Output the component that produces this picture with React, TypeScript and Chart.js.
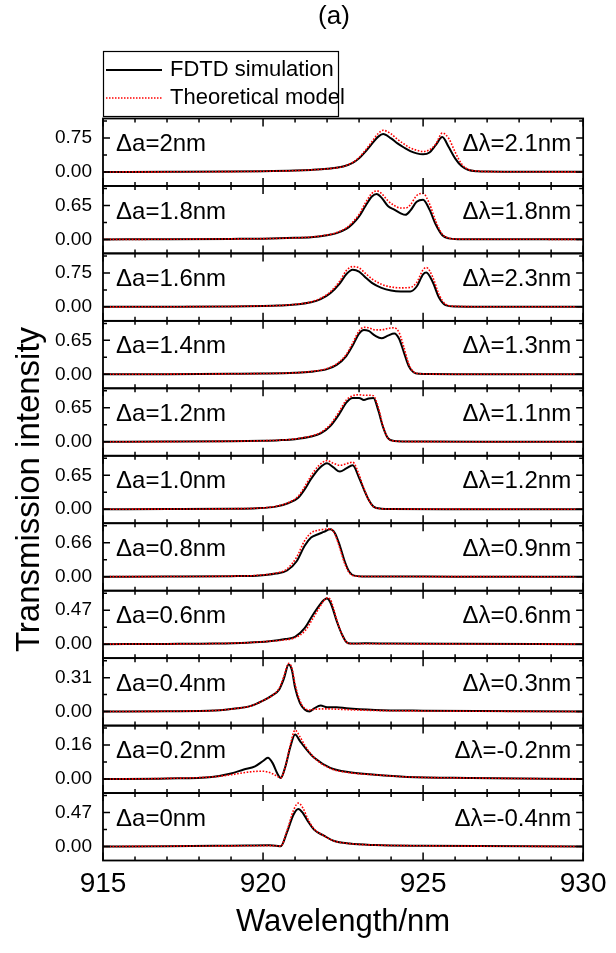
import React, { useEffect, useRef } from 'react';
import { Chart, registerables } from 'chart.js';

Chart.register(...registerables);

const FONT = '"Liberation Sans", Arial, Helvetica, sans-serif';

// ---------- data ----------
const wavelengthTicks = [915, 920, 925, 930];
const peakTicks = [0.75, 0.65, 0.75, 0.65, 0.65, 0.65, 0.66, 0.47, 0.31, 0.16, 0.47];
const latticeLabels = ['Δa=2nm', 'Δa=1.8nm', 'Δa=1.6nm', 'Δa=1.4nm', 'Δa=1.2nm', 'Δa=1.0nm', 'Δa=0.8nm', 'Δa=0.6nm', 'Δa=0.4nm', 'Δa=0.2nm', 'Δa=0nm'];
const shiftLabels = ['Δλ=2.1nm', 'Δλ=1.8nm', 'Δλ=2.3nm', 'Δλ=1.3nm', 'Δλ=1.1nm', 'Δλ=1.2nm', 'Δλ=0.9nm', 'Δλ=0.6nm', 'Δλ=0.3nm', 'Δλ=-0.2nm', 'Δλ=-0.4nm'];
const seriesNames = ['FDTD simulation', 'Theoretical model'];

const wl0 = [915, 917, 919, 920, 921, 921.5, 922, 922.5, 922.8, 923.0, 923.2, 923.4, 923.6, 923.75, 924.0, 924.2, 924.4, 924.6, 924.8, 925.0, 925.2, 925.4, 925.6, 925.8, 926.0, 926.2, 926.4, 926.7, 927, 928, 930];
const fdtd0 = [0, 0.003, 0.008, 0.015, 0.03, 0.045, 0.07, 0.12, 0.2, 0.3, 0.45, 0.62, 0.78, 0.84, 0.74, 0.63, 0.54, 0.46, 0.41, 0.39, 0.43, 0.6, 0.77, 0.55, 0.3, 0.13, 0.05, 0.015, 0.008, 0.004, 0.002];
const theory0 = [0, 0.003, 0.008, 0.015, 0.03, 0.045, 0.07, 0.12, 0.21, 0.32, 0.48, 0.67, 0.85, 0.92, 0.84, 0.72, 0.62, 0.53, 0.48, 0.45, 0.49, 0.62, 0.86, 0.74, 0.44, 0.18, 0.06, 0.02, 0.008, 0.004, 0.002];

const wl1 = [915, 917, 919, 920, 921, 921.5, 922, 922.3, 922.6, 922.8, 923.0, 923.2, 923.4, 923.55, 923.7, 923.9, 924.1, 924.3, 924.45, 924.6, 924.8, 925.0, 925.2, 925.4, 925.6, 925.8, 926.1, 927, 930];
const fdtd1 = [0, 0.003, 0.01, 0.015, 0.03, 0.04, 0.08, 0.12, 0.2, 0.3, 0.44, 0.64, 0.82, 0.87, 0.8, 0.64, 0.57, 0.5, 0.47, 0.55, 0.72, 0.76, 0.57, 0.28, 0.08, 0.02, 0.005, 0.003, 0.001];
const theory1 = [0, 0.003, 0.01, 0.015, 0.03, 0.045, 0.085, 0.13, 0.22, 0.33, 0.48, 0.7, 0.88, 0.93, 0.88, 0.74, 0.65, 0.6, 0.6, 0.66, 0.84, 0.88, 0.68, 0.34, 0.1, 0.025, 0.006, 0.003, 0.001];

const wl2 = [915, 917, 919, 920, 920.5, 921, 921.5, 921.8, 922.1, 922.4, 922.6, 922.8, 923.0, 923.2, 923.4, 923.7, 924.0, 924.3, 924.6, 924.8, 925.0, 925.1, 925.3, 925.5, 925.7, 926.0, 927, 930];
const fdtd2 = [0, 0.003, 0.01, 0.02, 0.03, 0.05, 0.1, 0.17, 0.3, 0.52, 0.72, 0.82, 0.78, 0.65, 0.53, 0.42, 0.36, 0.34, 0.34, 0.45, 0.72, 0.76, 0.55, 0.2, 0.04, 0.01, 0.003, 0.001];
const theory2 = [0, 0.003, 0.01, 0.02, 0.03, 0.055, 0.11, 0.19, 0.33, 0.57, 0.8, 0.89, 0.86, 0.74, 0.62, 0.5, 0.44, 0.42, 0.43, 0.54, 0.82, 0.87, 0.66, 0.27, 0.06, 0.012, 0.003, 0.001];

const wl3 = [915, 917, 919, 920, 921, 921.5, 922, 922.3, 922.6, 922.8, 923.0, 923.15, 923.3, 923.5, 923.7, 923.9, 924.1, 924.25, 924.4, 924.55, 924.7, 924.9, 925.2, 926, 930];
const fdtd3 = [0, 0.003, 0.01, 0.015, 0.03, 0.05, 0.1, 0.18, 0.35, 0.55, 0.78, 0.85, 0.83, 0.74, 0.69, 0.74, 0.78, 0.68, 0.42, 0.16, 0.04, 0.01, 0.005, 0.002, 0.001];
const theory3 = [0, 0.003, 0.01, 0.015, 0.03, 0.055, 0.11, 0.2, 0.38, 0.6, 0.83, 0.9, 0.89, 0.85, 0.85, 0.88, 0.89, 0.8, 0.52, 0.2, 0.05, 0.012, 0.005, 0.002, 0.001];

const wl4 = [915, 917, 919, 920, 920.5, 921, 921.5, 921.8, 922.1, 922.4, 922.6, 922.8, 923.0, 923.15, 923.3, 923.45, 923.6, 923.75, 923.9, 924.1, 924.4, 925, 927, 930];
const fdtd4 = [0, 0.003, 0.01, 0.02, 0.03, 0.05, 0.1, 0.16, 0.3, 0.55, 0.75, 0.84, 0.84, 0.8, 0.83, 0.84, 0.6, 0.28, 0.07, 0.015, 0.005, 0.003, 0.001, 0];
const theory4 = [0, 0.003, 0.01, 0.02, 0.03, 0.055, 0.11, 0.18, 0.33, 0.6, 0.8, 0.88, 0.9, 0.89, 0.89, 0.88, 0.66, 0.3, 0.07, 0.015, 0.005, 0.003, 0.001, 0];

const wl5 = [915, 917, 919, 919.8, 920.4, 920.8, 921.1, 921.3, 921.5, 921.75, 922.0, 922.2, 922.4, 922.6, 922.8, 923.0, 923.15, 923.3, 923.45, 923.7, 924, 926, 930];
const fdtd5 = [0, 0.003, 0.01, 0.02, 0.05, 0.12, 0.22, 0.38, 0.58, 0.78, 0.88, 0.8, 0.72, 0.78, 0.84, 0.6, 0.38, 0.18, 0.05, 0.01, 0.004, 0.002, 0];
const theory5 = [0, 0.003, 0.01, 0.02, 0.055, 0.13, 0.25, 0.43, 0.64, 0.84, 0.93, 0.88, 0.84, 0.87, 0.9, 0.66, 0.4, 0.18, 0.05, 0.01, 0.004, 0.002, 0];

const wl6 = [915, 917, 919, 919.8, 920.4, 920.75, 921.05, 921.3, 921.5, 921.7, 921.9, 922.1, 922.25, 922.4, 922.55, 922.7, 922.85, 923.1, 924, 926, 930];
const fdtd6 = [0, 0.003, 0.01, 0.02, 0.06, 0.12, 0.3, 0.6, 0.76, 0.82, 0.87, 0.92, 0.84, 0.6, 0.3, 0.09, 0.02, 0.005, 0.003, 0.001, 0];
const theory6 = [0, 0.003, 0.01, 0.025, 0.07, 0.15, 0.38, 0.7, 0.85, 0.9, 0.92, 0.93, 0.82, 0.55, 0.26, 0.07, 0.015, 0.005, 0.003, 0.001, 0];

const wl7 = [915, 917, 918.5, 919.5, 920.2, 920.7, 921.0, 921.3, 921.55, 921.75, 921.9, 922.0, 922.1, 922.2, 922.3, 922.45, 922.6, 922.75, 923.2, 924, 926, 930];
const fdtd7 = [0, 0.003, 0.008, 0.02, 0.04, 0.07, 0.1, 0.22, 0.4, 0.53, 0.61, 0.63, 0.58, 0.46, 0.32, 0.15, 0.03, 0.008, 0.012, 0.008, 0.004, 0];
const theory7 = [0, 0.003, 0.008, 0.02, 0.04, 0.06, 0.09, 0.18, 0.35, 0.5, 0.6, 0.64, 0.62, 0.5, 0.34, 0.15, 0.03, 0.006, 0.006, 0.005, 0.003, 0];

const wl8 = [915, 917, 918.5, 919.2, 919.6, 920.0, 920.3, 920.5, 920.65, 920.8, 920.9, 921.0, 921.15, 921.3, 921.45, 921.6, 921.8, 922.0, 922.3, 922.6, 923.5, 925, 930];
const fdtd8 = [0, 0.003, 0.01, 0.03, 0.05, 0.1, 0.15, 0.2, 0.3, 0.43, 0.38, 0.22, 0.08, 0.02, 0.002, 0.03, 0.055, 0.04, 0.04, 0.03, 0.015, 0.008, 0];
const theory8 = [0, 0.003, 0.01, 0.03, 0.05, 0.1, 0.15, 0.21, 0.32, 0.44, 0.4, 0.25, 0.1, 0.03, 0.015, 0.02, 0.025, 0.025, 0.022, 0.018, 0.01, 0.006, 0];

const wl9 = [915, 917, 918.4, 919.0, 919.4, 919.75, 920.0, 920.15, 920.3, 920.45, 920.55, 920.7, 920.85, 921.0, 921.15, 921.3, 921.6, 922.1, 922.7, 923.5, 924.5, 926.5, 930];
const fdtd9 = [0, 0.003, 0.01, 0.026, 0.045, 0.06, 0.085, 0.1, 0.075, 0.025, 0.005, 0.06, 0.15, 0.21, 0.18, 0.15, 0.1, 0.053, 0.032, 0.02, 0.01, 0.005, 0];
const theory9 = [0, 0.003, 0.01, 0.02, 0.03, 0.036, 0.037, 0.033, 0.025, 0.012, 0.006, 0.06, 0.16, 0.23, 0.2, 0.16, 0.1, 0.05, 0.03, 0.02, 0.01, 0.005, 0];

const wl10 = [915, 917, 918.5, 919.5, 920.2, 920.4, 920.55, 920.75, 920.95, 921.1, 921.25, 921.4, 921.6, 921.9, 922.2, 922.7, 923.5, 925, 930];
const fdtd10 = [0, 0.005, 0.01, 0.014, 0.016, 0.012, 0.003, 0.2, 0.44, 0.52, 0.46, 0.35, 0.23, 0.15, 0.08, 0.04, 0.02, 0.01, 0];
const theory10 = [0, 0.004, 0.008, 0.01, 0.012, 0.01, 0.004, 0.22, 0.5, 0.6, 0.53, 0.38, 0.24, 0.15, 0.08, 0.04, 0.02, 0.01, 0];

const wavelengths = [wl0, wl1, wl2, wl3, wl4, wl5, wl6, wl7, wl8, wl9, wl10];
const fdtdSeries = [fdtd0, fdtd1, fdtd2, fdtd3, fdtd4, fdtd5, fdtd6, fdtd7, fdtd8, fdtd9, fdtd10];
const theorySeries = [theory0, theory1, theory2, theory3, theory4, theory5, theory6, theory7, theory8, theory9, theory10];

// ---------- style ----------
const BLACK = '#000000';
const RED = '#ff0000';

const decorPlugin = {
  id: 'decor',
  afterDraw(chart: any) {
    const { ctx, chartArea: area } = chart;
    const xs = chart.scales.x;
    ctx.save();
    ctx.strokeStyle = BLACK;
    ctx.fillStyle = BLACK;
    for (let i = 0; i < peakTicks.length; i++) {
      const ys = chart.scales['y' + i];
      const top = ys.top;
      const bottom = ys.bottom;
      ctx.lineWidth = 1.8;
      ctx.strokeRect(area.left, top, area.right - area.left, bottom - top);
      ctx.lineWidth = 1.5;
      ctx.beginPath();
      for (let w = xs.min; w <= xs.max; w += 1) {
        const px = xs.getPixelForValue(w);
        const len = w % 5 === 0 ? 8 : 4;
        ctx.moveTo(px, bottom);
        ctx.lineTo(px, bottom - len);
        ctx.moveTo(px, top);
        ctx.lineTo(px, top + len);
      }
      const T = peakTicks[i];
      for (const k of [0, 0.5, 1, 1.5]) {
        const v = k * T;
        if (v > ys.max) continue;
        const py = ys.getPixelForValue(v);
        const len = k % 1 === 0 ? 7 : 4;
        ctx.moveTo(area.left, py);
        ctx.lineTo(area.left + len, py);
        ctx.moveTo(area.right, py);
        ctx.lineTo(area.right - len, py);
      }
      ctx.stroke();
      // y tick labels
      ctx.font = `19px ${FONT}`;
      ctx.textBaseline = 'middle';
      ctx.textAlign = 'right';
      for (const v of [0, T]) {
        ctx.fillText(v.toFixed(2), area.left - 11, ys.getPixelForValue(v));
      }
      // panel annotations
      ctx.font = `24px ${FONT}`;
      ctx.textAlign = 'left';
      ctx.fillText(latticeLabels[i], area.left + 13, top + 26);
      ctx.textAlign = 'right';
      ctx.fillText(shiftLabels[i], area.right - 12, top + 26);
    }
    // titles
    ctx.textAlign = 'center';
    ctx.textBaseline = 'middle';
    ctx.font = `31px ${FONT}`;
    ctx.fillText('Wavelength/nm', (area.left + area.right) / 2, 922);
    ctx.save();
    ctx.font = `33px ${FONT}`;
    ctx.translate(30, (area.top + area.bottom) / 2);
    ctx.rotate(-Math.PI / 2);
    ctx.fillText('Transmission intensity', 0, 0);
    ctx.restore();
    ctx.font = `26px ${FONT}`;
    ctx.fillText('(a)', 334, 17);
    // legend
    const lx = area.left;
    ctx.lineWidth = 1.2;
    ctx.strokeStyle = BLACK;
    ctx.strokeRect(lx + 0.5, 51.5, 235, 65);
    const fd = chart.data.datasets[1];
    const th = chart.data.datasets[0];
    ctx.beginPath();
    ctx.strokeStyle = fd.borderColor;
    ctx.lineWidth = 2;
    ctx.moveTo(lx + 3, 70);
    ctx.lineTo(lx + 59, 70);
    ctx.stroke();
    ctx.beginPath();
    ctx.strokeStyle = th.borderColor;
    ctx.lineWidth = 1.5;
    ctx.setLineDash([1.5, 1.5]);
    ctx.moveTo(lx + 3, 98);
    ctx.lineTo(lx + 59, 98);
    ctx.stroke();
    ctx.setLineDash([]);
    ctx.font = `22px ${FONT}`;
    ctx.textAlign = 'left';
    ctx.fillStyle = BLACK;
    ctx.fillText(seriesNames[0], lx + 67, 70);
    ctx.fillText(seriesNames[1], lx + 67, 98);
    ctx.restore();
  },
};

export default function App() {
  const ref = useRef<HTMLCanvasElement | null>(null);
  useEffect(() => {
    if (!ref.current) return;
    const datasets: any[] = [];
    const scales: any = {
      x: {
        type: 'linear',
        position: 'bottom',
        min: 915,
        max: 930,
        afterBuildTicks: (ax: any) => {
          ax.ticks = wavelengthTicks.map((v) => ({ value: v }));
        },
        ticks: {
          font: { family: FONT, size: 28, lineHeight: 1 },
          color: BLACK,
          padding: 9.5,
          autoSkip: false,
          maxRotation: 0,
          callback: (v: any) => String(v),
        },
        grid: { display: false, drawTicks: false },
        border: { display: false },
      },
    };
    peakTicks.forEach((T, i) => {
      datasets.push({
        label: seriesNames[1],
        data: wavelengths[i].map((x, j) => ({ x, y: theorySeries[i][j] })),
        xAxisID: 'x',
        yAxisID: 'y' + i,
        borderColor: RED,
        borderWidth: 1.6,
        borderDash: [1.6, 1.6],
        pointRadius: 0,
        fill: false,
        cubicInterpolationMode: 'monotone',
        order: 0,
      });
      datasets.push({
        label: seriesNames[0],
        data: wavelengths[i].map((x, j) => ({ x, y: fdtdSeries[i][j] })),
        xAxisID: 'x',
        yAxisID: 'y' + i,
        borderColor: BLACK,
        borderWidth: 2,
        pointRadius: 0,
        fill: false,
        cubicInterpolationMode: 'monotone',
        order: 1,
      });
      scales['y' + i] = {
        type: 'linear',
        display: false,
        position: 'left',
        stack: 'panels',
        stackWeight: 1,
        weight: 100 - i,
        min: -0.412 * T,
        max: 1.574 * T,
        grid: { display: false, drawTicks: false },
        border: { display: false },
      };
    });
    const chart = new Chart(ref.current, {
      type: 'line',
      data: { datasets },
      options: {
        responsive: false,
        animation: false,
        layout: { padding: { top: 118.5, left: 103, right: 27, bottom: 45.5 } },
        plugins: { legend: { display: false }, tooltip: { enabled: false } },
        scales,
      },
      plugins: [decorPlugin],
    } as any);
    return () => chart.destroy();
  }, []);
  return (
    <div style={{ position: 'absolute', left: 0, top: 0, width: 616, height: 953, background: '#fff' }}>
      <canvas ref={ref} width={616} height={953} />
    </div>
  );
}
